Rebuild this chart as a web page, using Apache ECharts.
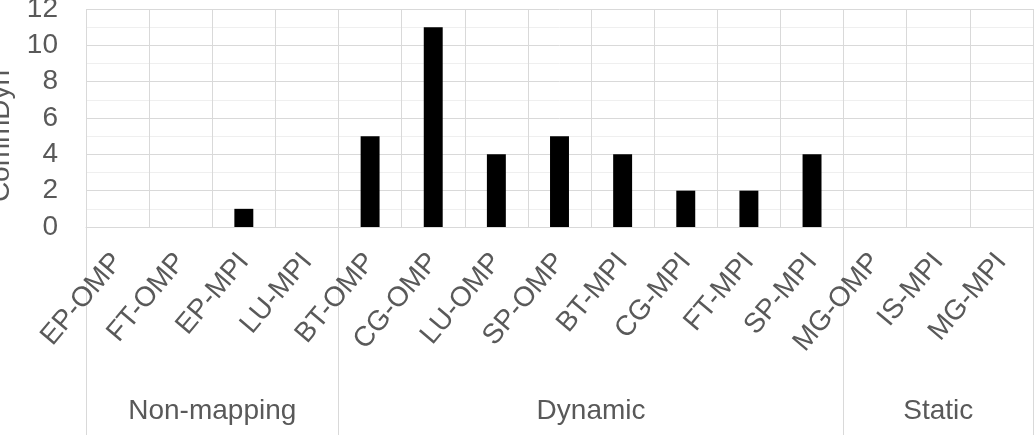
<!DOCTYPE html>
<html>
<head>
<meta charset="utf-8">
<script src="https://cdn.jsdelivr.net/npm/echarts@6/dist/echarts.min.js"></script>
<style>
  html, body { margin: 0; padding: 0; background: #fff; }
  #chart { width: 1035px; height: 435px; }
</style>
</head>
<body>
<div id="chart"></div>
<script>
  // 数据
  var categories = ['EP-OMP', 'FT-OMP', 'EP-MPI', 'LU-MPI', 'BT-OMP', 'CG-OMP', 'LU-OMP', 'SP-OMP',
    'BT-MPI', 'CG-MPI', 'FT-MPI', 'SP-MPI', 'MG-OMP', 'IS-MPI', 'MG-MPI']
  var values = [0, 0, 1, 0, 5, 11, 4, 5, 4, 2, 2, 4, 0, 0, 0]
  var groupNames = ['Non-mapping', 'Dynamic', 'Static']
  var groupSizes = [4, 8, 3]
  var yTicks = [0, 2, 4, 6, 8, 10, 12]

  // group boundaries and centres, in category units
  var groupEdges = [0]
  var groupCenters = []
  groupSizes.forEach(function (n, i) {
    groupCenters.push(groupEdges[i] + n / 2)
    groupEdges.push(groupEdges[i] + n)
  })

  var textColor = '#595959'
  var gridColor = '#d9d9d9'
  var font = 'Liberation Sans, Arial, sans-serif'
  var fontSize = 28

  var chart = echarts.init(document.getElementById('chart'))
  chart.setOption({
    animation: false,
    grid: { left: 86, right: 2, top: 9, bottom: 208, containLabel: false, outerBoundsMode: 'none' },
    xAxis: [
      {
        type: 'category',
        data: categories,
        position: 'bottom',
        axisLine: { show: true, lineStyle: { color: gridColor, width: 1 } },
        axisTick: { show: false },
        splitLine: { show: true, interval: 0, lineStyle: { color: gridColor } },
        axisLabel: {
          interval: 0,
          rotate: 50,
          margin: 30,
          color: textColor,
          fontFamily: font,
          fontSize: fontSize
        }
      },
      {
        type: 'value',
        min: 0,
        max: categories.length,
        position: 'bottom',
        offset: 0,
        axisLine: { show: false },
        splitLine: { show: false },
        axisTick: {
          show: true,
          customValues: groupEdges,
          length: 210,
          lineStyle: { color: gridColor }
        },
        axisLabel: {
          customValues: groupCenters,
          margin: 170,
          color: textColor,
          fontFamily: font,
          fontSize: fontSize,
          formatter: function (v) {
            return groupNames[groupCenters.indexOf(v)]
          }
        }
      }
    ],
    yAxis: {
      type: 'value',
      min: yTicks[0],
      max: yTicks[yTicks.length - 1],
      interval: 2,
      name: 'CommDyn',
      nameLocation: 'middle',
      nameGap: 71,
      nameTextStyle: { color: textColor, fontFamily: font, fontSize: fontSize, padding: [0, 36, 0, 0] },
      axisLine: { show: false },
      axisTick: { show: false },
      axisLabel: { color: textColor, fontFamily: font, fontSize: fontSize, margin: 28 },
      splitLine: { show: true, lineStyle: { color: gridColor } },
      minorTick: { show: false, splitNumber: 2 },
      minorSplitLine: { show: true, lineStyle: { color: '#efefef' } }
    },
    series: [
      {
        type: 'bar',
        xAxisIndex: 0,
        data: values,
        barWidth: '30%',
        itemStyle: { color: '#000' }
      }
    ]
  })
</script>
</body>
</html>
